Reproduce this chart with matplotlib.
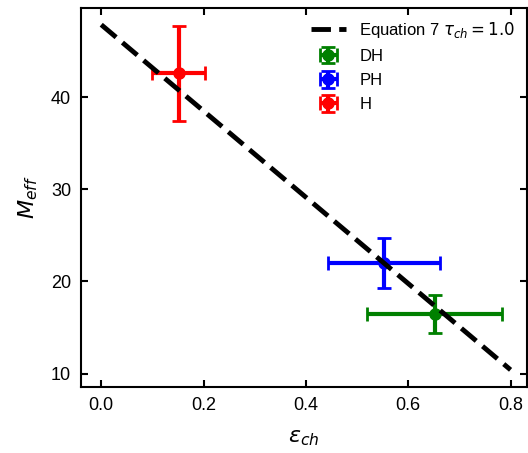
import numpy as np
import matplotlib
matplotlib.use("Agg")
import matplotlib.pyplot as plt

plt.rcParams["font.family"] = ["Liberation Sans", "DejaVu Sans"]

# Measured points (eps_ch, M_eff) with errors
labels = ["DH", "PH", "H"]
colors = ["green", "blue", "red"]
eps_ch = [0.652, 0.553, 0.151]
eps_err = [0.132, 0.11, 0.051]
m_eff = [16.5, 22.0, 42.6]
m_err = [2.05, 2.7, 5.2]

# Equation 7 line, tau_ch = 1.0
line_x = [0.0, 0.8]
line_y = [47.9, 10.4]

fig = plt.figure(figsize=(5.28, 4.53), dpi=100)
ax = fig.add_axes([0.153, 0.146, 0.845, 0.836])

ax.plot(line_x, line_y, "k--", lw=3.5, dashes=(4, 1.7), label=r"Equation 7 $\tau_{ch} = 1.0$", zorder=3)

for x, xe, y, ye, c, lab in zip(eps_ch, eps_err, m_eff, m_err, colors, labels):
    ax.errorbar(x, y, xerr=xe, yerr=ye, fmt="o", color=c, ms=8, lw=3,
                capsize=5, capthick=2, label=lab, zorder=2)

ax.set_xlim(-0.04, 0.832)
ax.set_ylim(8.55, 49.7)
ax.set_xticks([0.0, 0.2, 0.4, 0.6, 0.8])
ax.set_yticks([10, 20, 30, 40])

ax.set_xlabel(r"$\varepsilon_{ch}$", fontsize=16, labelpad=10)
ax.set_ylabel(r"$M_{eff}$", fontsize=16, labelpad=8)

ax.tick_params(direction="in", top=True, right=True, length=5, width=1.5, labelsize=13, pad=7)
for sp in ax.spines.values():
    sp.set_linewidth(1.5)

ax.legend(loc="upper right", frameon=False, fontsize=12, handlelength=2.1,
          borderaxespad=0.3, labelspacing=0.55, handletextpad=0.8)

fig.savefig("out.png", dpi=100)
